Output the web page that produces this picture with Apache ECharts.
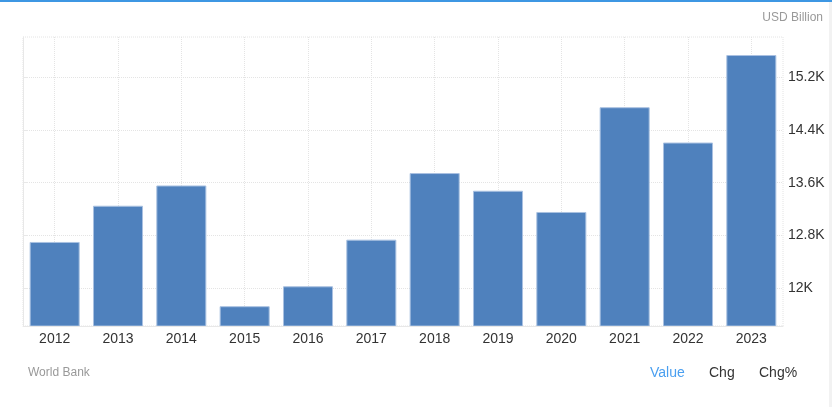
<!DOCTYPE html>
<html>
<head>
<meta charset="utf-8">
<script src="https://cdn.jsdelivr.net/npm/echarts@6/dist/echarts.min.js"></script>
<style>
  html, body { margin: 0; padding: 0; background: #fff; }
  #chart { width: 832px; height: 407px; }
</style>
</head>
<body>
<div id="chart"></div>
<script>
const years = ['2012','2013','2014','2015','2016','2017','2018','2019','2020','2021','2022','2023'];
const values = [12698, 13249, 13557, 11721, 12024, 12733, 13746, 13477, 13154, 14747, 14210, 15541];
const yTicks = [12000, 12800, 13600, 14400, 15200];
const unitLabel = 'USD Billion';
const sourceLabel = 'World Bank';
const tabs = ['Value', 'Chg', 'Chg%'];

// vertical grid lines sit on category centres
const centreLines = years.map((_, i) => i + 0.5);

const FONT = "'Liberation Sans', Arial, sans-serif";
const chart = echarts.init(document.getElementById('chart'), null, { renderer: 'canvas' });

chart.setOption({
  animation: false,
  backgroundColor: '#fff',
  grid: {
    left: 23, right: 49, top: 37, bottom: 81,
    show: true,
    borderColor: '#e4e4e4',
    borderWidth: 1,
    borderType: 'dotted'
  },
  xAxis: [{
    type: 'category',
    data: years,
    boundaryGap: true,
    axisLine: { show: true, lineStyle: { color: '#e8e8e8', width: 1 } },
    axisTick: { show: false },
    axisLabel: { color: '#333', fontSize: 14, fontFamily: FONT, margin: 6 },
    splitLine: { show: false },
    z: 3
  }, {
    type: 'value',
    min: 0,
    max: years.length,
    position: 'bottom',
    axisLine: { show: false },
    axisTick: { show: false, customValues: centreLines },
    axisLabel: { show: false, customValues: centreLines },
    splitLine: { show: true, lineStyle: { color: '#e4e4e4', type: 'dotted' } }
  }],
  yAxis: {
    type: 'value',
    position: 'right',
    min: 11420,
    max: 15815,
    axisLine: { show: true, lineStyle: { color: '#e8e8e8', width: 1 } },
    axisTick: { show: true, length: 5, customValues: yTicks, lineStyle: { color: '#e8e8e8' } },
    axisLabel: {
      customValues: yTicks,
      color: '#333', fontSize: 14, fontFamily: FONT, margin: 5,
      formatter: v => (v / 1000) + 'K'
    },
    splitLine: { show: true, lineStyle: { color: '#e4e4e4', type: 'dotted' } }
  },
  series: [{
    type: 'bar',
    xAxisIndex: 0,
    data: values,
    barCategoryGap: '21%',
    itemStyle: { color: '#4f81bd', borderColor: '#a9c1e1', borderWidth: 1 }
  }],
  graphic: [
    { type: 'rect', left: 0, top: 0, shape: { width: 832, height: 2 }, style: { fill: '#3d97e3' } },
    { type: 'rect', left: 829, top: 2, shape: { width: 3, height: 405 }, style: { fill: '#f2f2f2' } },
    { type: 'text', right: 9, top: 12, style: { text: unitLabel, fill: '#999', font: '12px ' + FONT } },
    { type: 'text', left: 28, top: 367, style: { text: sourceLabel, fill: '#999', font: '12px ' + FONT } },
    { type: 'text', left: 650, top: 366, style: { text: tabs[0], fill: '#4a9ff0', font: '14px ' + FONT } },
    { type: 'text', left: 709, top: 366, style: { text: tabs[1], fill: '#333', font: '14px ' + FONT } },
    { type: 'text', left: 759, top: 366, style: { text: tabs[2], fill: '#333', font: '14px ' + FONT } }
  ]
});
</script>
</body>
</html>
